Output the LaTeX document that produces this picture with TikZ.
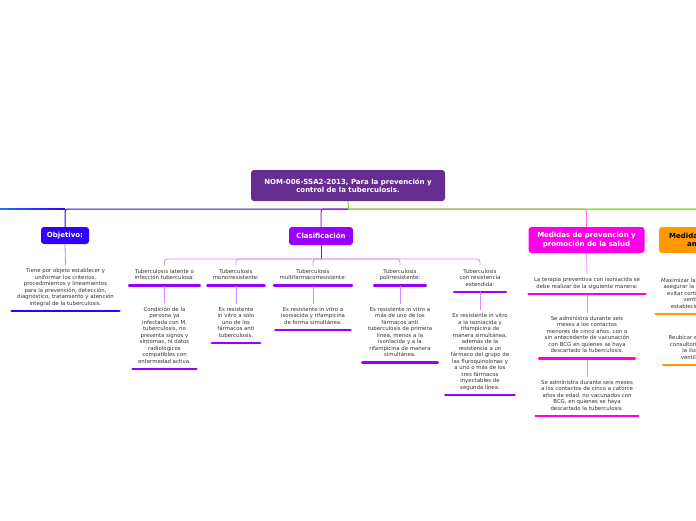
\documentclass[tikz,border=0pt]{standalone}
\usepackage{fontspec}
\setmainfont{DejaVu Sans}
\definecolor{titleC}{HTML}{662D91}
\definecolor{objC}{HTML}{3300FF}
\definecolor{clsC}{HTML}{9900FF}
\definecolor{medC}{HTML}{FF00E6}
\definecolor{ambC}{HTML}{FF9900}
\definecolor{greenC}{HTML}{55E600}
\definecolor{txtC}{HTML}{333333}
\definecolor{lblueC}{HTML}{1A77FF}
\begin{document}
\begin{tikzpicture}[x=1pt,y=-1pt,
  topic/.style={rounded corners=3pt, fill=#1, text=white, font=\fontsize{7}{8.4}\selectfont\bfseries, align=center, inner sep=0pt},
  leaf/.style={text=txtC, font=\fontsize{5.4}{6.5}\selectfont, align=center, inner xsep=5.5pt, inner ysep=3.5pt, anchor=south, execute at begin node=\strut, execute at end node=\strut},
  bar/.style={line width=2.2pt, line cap=round, draw=#1},
  link/.style={line width=0.8pt, draw=#1},
  mainline/.style={line width=1pt, draw=#1},
]
\useasboundingbox (0,0) rectangle (696,520);
\clip (0,0) rectangle (696,520);

% main topics
\node[topic=titleC, minimum width=194pt, minimum height=31pt] (title) at (348,185.5) {NOM-006-SSA2-2013, Para la prevención y\\control de la tuberculosis.};
\node[topic=objC, minimum width=48pt, minimum height=17pt] (obj) at (65,235.5) {Objetivo:};
\node[topic=clsC, minimum width=64pt, minimum height=18pt] (cls) at (321,236) {Clasificación};
\node[topic=medC, minimum width=116pt, minimum height=26pt] (med) at (586.5,240) {Medidas de prevención y\\promoción de la salud};
\node[topic=ambC, text=black, minimum width=96pt, minimum height=26pt] (amb) at (707,240) {Medidas de control\\ambiental};

% main connectors
\coordinate (hub) at (348.5,209);
\coordinate (lend) at (0,209);
\coordinate (rend) at (700,209);
\draw[mainline=objC, rounded corners=2.5pt] (hub) -| (obj.north);
\draw[mainline=clsC, rounded corners=2.5pt] (hub) -| (cls.north);
\draw[mainline=clsC!50] ([yshift=-2.5pt]cls.north |- hub) -- (cls.north);
\draw[mainline=medC!55, rounded corners=2.5pt] (hub) -| (med.north);
\draw[mainline=ambC!55, rounded corners=2.5pt] (hub) -| (amb.north);
\draw[mainline=greenC] (title.south) -- (hub) -- (rend);
\path[left color=lblueC, right color=objC] ([yshift=0.5pt]lend) rectangle ([yshift=-0.5pt]obj.north |- hub);

% Objetivo
\node[leaf] (ot) at (65.5,311) {Tiene por objeto establecer y\\uniformar los criterios,\\procedimientos y lineamientos\\para la prevención, detección,\\diagnóstico, tratamiento y atención\\integral de la tuberculosis.};
\draw[bar=objC] (ot.south west) -- (ot.south east);
\draw[link=objC!45] (obj.south) -- (ot.north);

% Clasificacion
\node[leaf] (c1) at (164.5,285.5) {Tuberculosis latente o\\infección tuberculosa:};
\node[leaf] (c2) at (236,285.5) {Tuberculosis\\monorresistente:};
\node[leaf] (c3) at (313,285.5) {Tuberculosis\\multifarmacorresistente:};
\node[leaf] (c4) at (400,285.5) {Tuberculosis\\polirresistente:};
\node[leaf] (c5) at (480,292) {Tuberculosis\\con resistencia\\extendida:};
\coordinate (chub) at (321,259);
\draw[mainline=clsC] (cls.south) -- (chub);
\foreach \c in {c1,c2,c3,c4,c5}{
  \draw[link=clsC!45, rounded corners=3pt] (chub) -| (\c.north);
  \draw[bar=clsC] (\c.south west) -- (\c.south east);
}
\node[leaf] (d1) at (164.5,369) {Condición de la\\persona ya\\infectada con M.\\tuberculosis, no\\presenta signos y\\síntomas, ni datos\\radiológicos\\compatibles con\\enfermedad activa.};
\node[leaf] (d2) at (236,343) {Es resistente\\in vitro a sólo\\uno de los\\fármacos anti\\tuberculosis.};
\node[leaf] (d3) at (313,330) {Es resistente in vitro a\\isoniacida y rifampicina\\de forma simultánea.};
\node[leaf] (d4) at (400,362.5) {Es resistente in vitro a\\más de uno de los\\fármacos anti\\tuberculosis de primera\\línea, menos a la\\isoniacida y a la\\rifampicina de manera\\simultánea.};
\node[leaf] (d5) at (480,395) {Es resistente in vitro\\a la isoniacida y\\rifampicina de\\manera simultánea,\\además de la\\resistencia a un\\fármaco del grupo de\\las fluroquinolonas y\\a uno o más de los\\tres fármacos\\inyectables de\\segunda línea.};
\foreach \i in {1,...,5}{
  \draw[link=clsC!45] (c\i.south) -- (d\i.north);
  \draw[bar=clsC] (d\i.south west) -- (d\i.south east);
}

% Medidas de prevencion
\node[leaf] (m1) at (587,294) {La terapia preventiva con isoniacida se\\debe realizar de la siguiente manera:};
\node[leaf] (m2) at (587,358.5) {Se administra durante seis\\meses a los contactos\\menores de cinco años, con o\\sin antecedente de vacunación\\con BCG en quienes se haya\\descartado la tuberculosis.};
\node[leaf] (m3) at (587,416) {Se administra durante seis meses\\a los contactos de cinco a catorce\\años de edad, no vacunados con\\BCG, en quienes se haya\\descartado la tuberculosis.};
\draw[link=medC!45] (med.south) -- (m1.north);
\draw[link=medC!45] (m1.south) -- (m2.north);
\draw[link=medC!45] (m2.south) -- (m3.north);
\foreach \m in {m1,m2,m3}{\draw[bar=medC] (\m.south west) -- (\m.south east);}

% Medidas de control ambiental
\node[leaf] (o1) at (707,314) {Maximizar la ventilación natural y\\asegurar la ventilación cruzada,\\evitar cortinas que obstruyan\\ventilación en los\\establecimientos de salud.};
\node[leaf] (o2) at (707,365) {Reubicar el mobiliario de los\\consultorios para favorecer\\la iluminación y la\\ventilación natural.};
\draw[link=ambC!45] (amb.south) -- (o1.north);
\draw[link=ambC!45] (o1.south) -- (o2.north);
\foreach \o in {o1,o2}{\draw[bar=ambC] (\o.south west) -- (\o.south east);}
\end{tikzpicture}
\end{document}
